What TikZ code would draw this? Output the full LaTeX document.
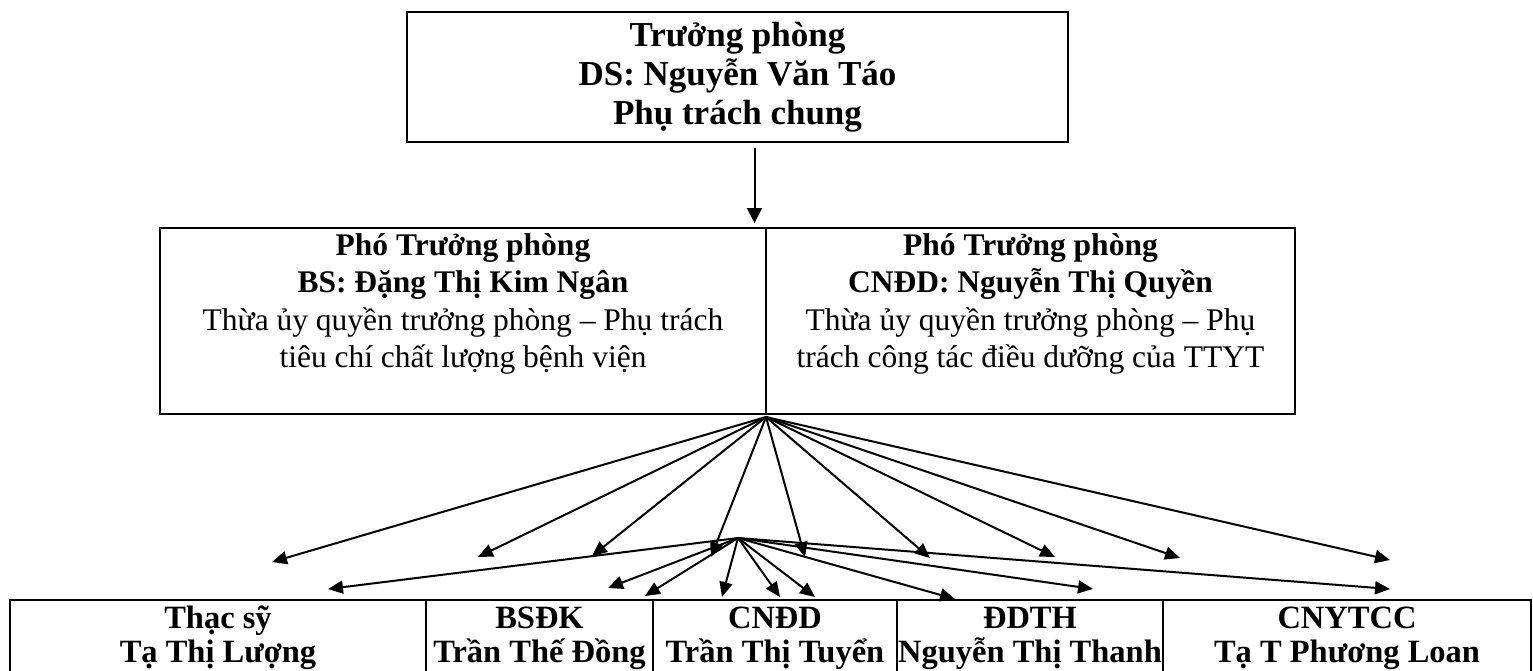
\documentclass[tikz,border=0pt]{standalone}
\usepackage{fontspec}
\setmainfont{Liberation Serif}
\usetikzlibrary{positioning}
\usetikzlibrary{arrows.meta}

\newcommand{\firstline}[1]{\rule{0pt}{#1}}
\newcommand{\tightlines}{\lineskiplimit-50pt\lineskip0pt\relax}

\tikzset{
	frame/.style={draw, line width=2pt, inner sep=0pt, outer sep=0pt},
	arr/.style={line width=2pt, -{Triangle[length=15pt,width=13pt]}},
	midtext/.style={anchor=north, align=center, inner sep=0pt, font=\fontsize{31.5}{37.5}\selectfont},
	lowtext/.style={anchor=north, align=center, inner sep=0pt, font=\bfseries\fontsize{32.5}{34}\selectfont\tightlines},
}

\begin{document}
\begin{tikzpicture}[x=1pt,y=-1pt]
	\useasboundingbox (0,0) rectangle (1533,670);
	\clip (0,0) rectangle (1533,670);

	% truong phong
	\node [frame, anchor=north west, minimum width=661pt, minimum height=130pt, align=center, font=\fontsize{35}{39}\selectfont\bfseries] (chief) at (407,12) {Trưởng phòng\\DS: Nguyễn Văn Táo\\Phụ trách chung};

	% pho truong phong
	\node [frame, anchor=north west, minimum width=606pt, minimum height=186pt] (deputyL) at (160,228) {};
	\node [frame, anchor=north west, minimum width=529pt, minimum height=186pt] (deputyR) at (deputyL.north east) {};
	\node [midtext] (deputyLtxt) at ([yshift=5pt]deputyL.north) {\firstline{32pt}\textbf{Phó Trưởng phòng}\\\textbf{BS: Đặng Thị Kim Ngân}\\Thừa ủy quyền trưởng phòng – Phụ trách\\tiêu chí chất lượng bệnh viện};
	\node [midtext] (deputyRtxt) at ([yshift=5pt]deputyR.north) {\firstline{32pt}\textbf{Phó Trưởng phòng}\\\textbf{CNĐD: Nguyễn Thị Quyền}\\Thừa ủy quyền trưởng phòng – Phụ\\trách công tác điều dưỡng của TTYT};

	\coordinate (drop) at ([xshift=17pt]chief.south);
	\draw [line width=2pt, -{Triangle[length=15pt,width=15pt]}, shorten <=6pt, shorten >=5pt] (drop) -- (drop |- deputyL.north);

	% nhan vien
	\node [frame, anchor=north west, minimum width=416pt, minimum height=120pt] (staff1) at (10,600) {};
	\node [frame, anchor=north west, minimum width=227pt, minimum height=120pt] (staff2) at (staff1.north east) {};
	\node [frame, anchor=north west, minimum width=244pt, minimum height=120pt] (staff3) at (staff2.north east) {};
	\node [frame, anchor=north west, minimum width=266pt, minimum height=120pt] (staff4) at (staff3.north east) {};
	\node [frame, anchor=north west, minimum width=368pt, minimum height=120pt] (staff5) at (staff4.north east) {};
	\node [lowtext] (staff1txt) at (staff1.north) {\firstline{28pt}Thạc sỹ\\Tạ Thị Lượng};
	\node [lowtext] (staff2txt) at (staff2.north) {\firstline{28pt}BSĐK\\Trần Thế Đồng};
	\node [lowtext] (staff3txt) at (staff3.north) {\firstline{28pt}CNĐD\\Trần Thị Tuyển};
	\node [lowtext] (staff4txt) at (staff4.north) {\firstline{28pt}ĐDTH\\Nguyễn Thị Thanh};
	\node [lowtext] (staff5txt) at (staff5.north) {\firstline{28pt}CNYTCC\\Tạ T Phương Loan};

	% mui ten
	\coordinate (hubA) at ([yshift=-3pt]deputyL.south east);
	\coordinate (hubB) at (738,538);
	\foreach \x/\y [count=\i] in {272/562,478/557,592/556,711/557,805/557,930/558,1055/557,1180/558,1390/560}
		\coordinate (a\i) at (\x,\y);
	\foreach \x/\y [count=\i] in {328/589,608/588,645/596,722/597,780/597,815/597,955/599,1093/589,1390/589}
		\coordinate (b\i) at (\x,\y);
	\foreach \i in {1,...,9}{
		\draw [arr] (hubA) -- (a\i);
		\draw [arr] (hubB) -- (b\i);
	}
\end{tikzpicture}
\end{document}
